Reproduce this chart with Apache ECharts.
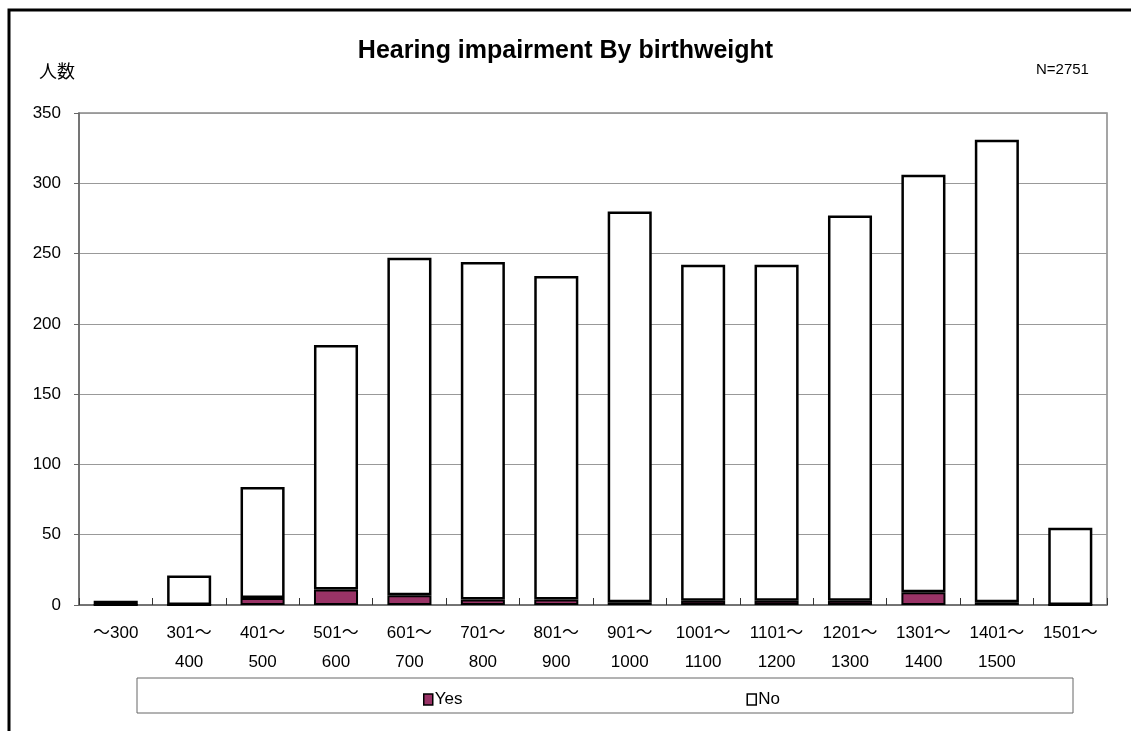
<!DOCTYPE html>
<html>
<head>
<meta charset="utf-8">
<style>
  html, body { margin: 0; padding: 0; background: #fff; }
  #chart { width: 1131px; height: 731px; }
</style>
<script src="https://cdn.jsdelivr.net/npm/echarts@6/dist/echarts.min.js"></script>
</head>
<body>
<div id="chart"></div>
<script>
// 出生体重別 聴覚障害
var categories = ['～300', '301～\n400', '401～\n500', '501～\n600', '601～\n700', '701～\n800',
    '801～\n900', '901～\n1000', '1001～\n1100', '1101～\n1200', '1201～\n1300', '1301～\n1400',
    '1401～\n1500', '1501～'];
var yesValues = [0, 0, 5, 11, 7, 4, 4, 2, 3, 3, 3, 9, 2, 0];
var noValues = [3, 21, 79, 174, 240, 240, 230, 278, 239, 239, 274, 297, 329, 55];
var yTicks = [0, 50, 100, 150, 200, 250, 300, 350];

var font = '"Liberation Sans", "Noto Sans CJK JP", sans-serif';

var myChart = echarts.init(document.getElementById('chart'));

var option = {
    backgroundColor: '#fff',
    animation: false,
    textStyle: { fontFamily: font, color: '#000' },
    title: {
        text: 'Hearing impairment By birthweight',
        left: 'center',
        top: 34,
        textStyle: { fontFamily: font, fontSize: 25, fontWeight: 'bold', color: '#000' }
    },
    graphic: [
        // 外枠
        { type: 'rect', shape: { x: 9, y: 10, width: 1140, height: 740 },
          style: { fill: 'none', stroke: '#000', lineWidth: 3 }, silent: true },
        // 凡例の枠
        { type: 'rect', shape: { x: 137, y: 678, width: 936, height: 35 },
          style: { fill: '#fff', stroke: '#666', lineWidth: 1 }, silent: true, z: -1 },
        { type: 'text', left: 39, top: 62,
          style: { text: '人数', font: '18px "Noto Sans CJK JP"', fill: '#000' } },
        { type: 'text', left: 1036, top: 62,
          style: { text: 'N=2751', font: '15px ' + font, fill: '#000' } }
    ],
    legend: {
        data: [
            { name: 'Yes', itemStyle: { color: '#993366', borderColor: '#000', borderWidth: 1.5 } },
            { name: 'No', itemStyle: { color: '#fff', borderColor: '#000', borderWidth: 1.5 } }
        ],
        left: 418,
        top: 686,
        icon: 'rect',
        itemWidth: 9,
        itemHeight: 11,
        itemGap: 284,
        textStyle: { fontFamily: font, fontSize: 17, color: '#000', padding: [0, 0, 0, -3] }
    },
    grid: {
        left: 79,
        right: 24,
        top: 113,
        bottom: 126,
        show: true,
        borderColor: '#888',
        borderWidth: 1.5,
        backgroundColor: '#fff'
    },
    xAxis: {
        type: 'category',
        data: categories,
        axisLine: { lineStyle: { color: '#666', width: 1.5 } },
        axisTick: { show: true, inside: true, length: 7, lineStyle: { color: '#333' } },
        axisLabel: { color: '#000', fontSize: 17, lineHeight: 29, margin: 14, interval: 0, fontFamily: font }
    },
    yAxis: {
        type: 'value',
        min: yTicks[0],
        max: yTicks[yTicks.length - 1],
        interval: 50,
        axisLine: { show: true, lineStyle: { color: '#666', width: 1.5 } },
        axisTick: { show: true, length: 5, lineStyle: { color: '#666' } },
        axisLabel: { color: '#000', fontSize: 17, margin: 18, fontFamily: font },
        splitLine: { lineStyle: { color: '#999', width: 1 } }
    },
    series: [
        {
            name: 'Yes',
            type: 'bar',
            stack: 'total',
            data: yesValues,
            barWidth: '60%',
            itemStyle: { color: '#993366', borderColor: '#000', borderWidth: 2 }
        },
        {
            name: 'No',
            type: 'bar',
            stack: 'total',
            data: noValues,
            barWidth: '60%',
            itemStyle: { color: '#fff', borderColor: '#000', borderWidth: 2.5 }
        }
    ]
};

myChart.setOption(option);
</script>
</body>
</html>
